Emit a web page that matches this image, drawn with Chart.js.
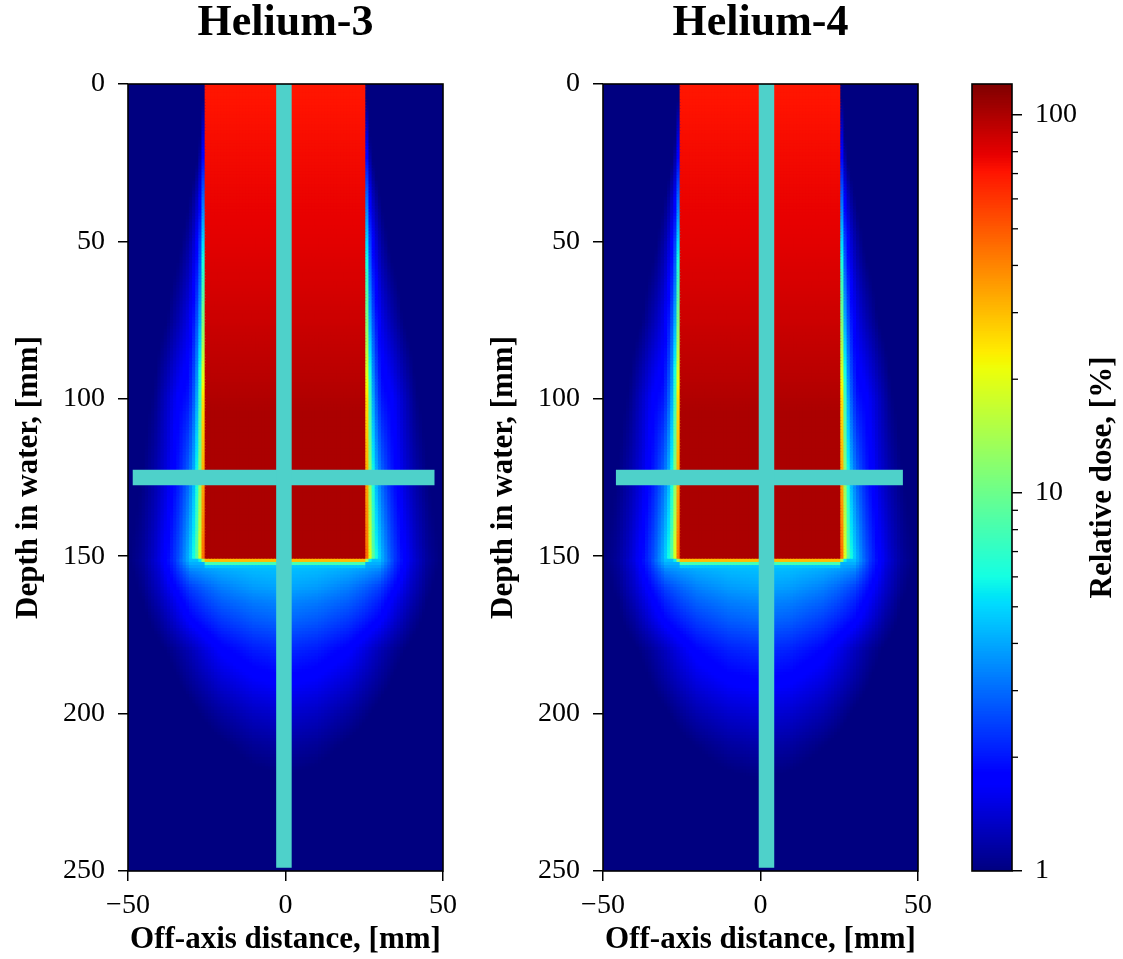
<!DOCTYPE html>
<html>
<head>
<meta charset="utf-8">
<script src="https://cdn.jsdelivr.net/npm/chart.js@4.4.1/dist/chart.umd.min.js"></script>
<style>
  html, body { margin: 0; padding: 0; background: #fff; }
  #wrap { position: relative; width: 1123px; height: 959px; }
  #wrap canvas { position: absolute; left: 0; top: 0; }
</style>
</head>
<body>
<div id="wrap">
  <canvas id="he3" width="1123" height="959"></canvas>
  <canvas id="he4" width="1123" height="959"></canvas>
  <canvas id="cbar" width="1123" height="959"></canvas>
</div>
<script>
// ---- labels and ticks ----
const panelTitles = ['Helium-3', 'Helium-4'];
const xTitle = 'Off-axis distance, [mm]';
const yTitle = 'Depth in water, [mm]';
const cbarTitle = 'Relative dose, [%]';
const xTickValues = [-50, 0, 50];
const depthTickValues = [0, 50, 100, 150, 200, 250];
const cbarTickValues = [1, 10, 100];
const cbarMinorValues = [2, 3, 4, 5, 6, 7, 8, 9, 20, 30, 40, 50, 60, 70, 80, 90];
const doseMin = 1;
const doseMax = 120.8;

// ---- dose (relative dose, %) ----
const fieldHalfWidth = 25.5;                       // mm, lateral edge of the field
const fieldDepths = [0, 10, 25, 50, 75, 95, 105, 150.5];
const he3FieldDose = [70, 72, 75, 80, 88, 96, 101, 101];
const he4FieldDose = [70, 72, 75, 80, 88, 96, 101, 101];

const edgeDepths = [150.5, 151.5, 152.5, 153.5, 154.5];   // distal fall-off
const he3EdgeDose = [101, 30, 8, 4.6, 0.5];
const he4EdgeDose = [101, 30, 8, 4.6, 0.5];

// lateral halo outside the field: rows = depth, cols = distance from field edge
const haloDepths = [0, 20, 50, 75, 100, 125, 150];
const haloOffsets = [0.5, 1.5, 2.5, 3.5, 5, 8, 12, 16, 20, 25, 30];
const he3Halo = [
  [0.85, 0.8, 0.8, 0.8, 0.8, 0.8, 0.8, 0.8, 0.8, 0.8, 0.8],
  [1.6, 1.05, 0.9, 0.85, 0.8, 0.8, 0.8, 0.8, 0.8, 0.8, 0.8],
  [5, 2.4, 1.7, 1.4, 1.15, 0.95, 0.85, 0.8, 0.8, 0.8, 0.8],
  [11, 4, 2.6, 2.0, 1.55, 1.25, 1.0, 0.88, 0.82, 0.8, 0.8],
  [25, 7.5, 4, 2.8, 2.0, 1.78, 1.35, 1.03, 0.92, 0.85, 0.8],
  [33, 12, 6, 4.2, 3.0, 2.1, 1.5, 1.18, 1.0, 0.9, 0.82],
  [45, 19, 9, 6, 4.3, 2.7, 1.8, 1.35, 1.1, 0.97, 0.88]
];
const he4Halo = [
  [0.85, 0.8, 0.8, 0.8, 0.8, 0.8, 0.8, 0.8, 0.8, 0.8, 0.8],
  [1.6, 1.05, 0.9, 0.85, 0.8, 0.8, 0.8, 0.8, 0.8, 0.8, 0.8],
  [5, 2.4, 1.7, 1.4, 1.15, 0.95, 0.85, 0.8, 0.8, 0.8, 0.8],
  [11, 4, 2.6, 2.0, 1.55, 1.25, 1.0, 0.88, 0.82, 0.8, 0.8],
  [25, 7.5, 4, 2.8, 2.0, 1.78, 1.35, 1.03, 0.92, 0.85, 0.8],
  [33, 12, 6, 4.2, 3.0, 2.1, 1.5, 1.18, 1.0, 0.9, 0.82],
  [45, 19, 9, 6, 4.3, 2.7, 1.8, 1.35, 1.1, 0.97, 0.88]
];

// distal tail beyond the field: rows = depth, cols = off-axis distance
const tailDepths = [151.5, 155, 160, 165, 170, 180, 190, 200, 210, 220, 235];
const tailOffAxis = [0, 10, 20, 25, 30, 35, 40, 45, 50];
const he3Tail = [
  [4.6, 4.6, 4.5, 4.5, 4.5, 2.3, 1.5, 1.13, 0.98],
  [4.4, 4.3, 4.0, 3.7, 3.3, 2.1, 1.42, 1.1, 0.95],
  [4.0, 3.8, 3.3, 2.9, 2.45, 1.8, 1.33, 1.06, 0.92],
  [3.4, 3.2, 2.8, 2.45, 2.05, 1.55, 1.22, 1.0, 0.9],
  [3.0, 2.8, 2.4, 2.1, 1.8, 1.4, 1.12, 0.96, 0.88],
  [2.2, 2.05, 1.75, 1.5, 1.25, 1.08, 0.96, 0.88, 0.85],
  [1.75, 1.65, 1.42, 1.25, 1.1, 0.97, 0.88, 0.84, 0.82],
  [1.4, 1.32, 1.15, 1.05, 0.95, 0.87, 0.82, 0.8, 0.8],
  [1.16, 1.1, 0.98, 0.92, 0.86, 0.82, 0.8, 0.8, 0.8],
  [1.0, 0.96, 0.88, 0.84, 0.8, 0.8, 0.8, 0.8, 0.8],
  [0.85, 0.83, 0.8, 0.8, 0.8, 0.8, 0.8, 0.8, 0.8]
];
const he4Tail = [
  [4.6, 4.6, 4.5, 4.5, 4.5, 2.3, 1.5, 1.13, 0.98],
  [4.4, 4.3, 4.0, 3.7, 3.3, 2.1, 1.42, 1.1, 0.95],
  [4.0, 3.8, 3.35, 2.95, 2.5, 1.82, 1.35, 1.06, 0.92],
  [3.45, 3.25, 2.85, 2.5, 2.1, 1.6, 1.24, 1.0, 0.9],
  [3.05, 2.85, 2.45, 2.15, 1.85, 1.45, 1.14, 0.97, 0.88],
  [2.25, 2.1, 1.82, 1.56, 1.3, 1.1, 0.97, 0.88, 0.85],
  [1.8, 1.72, 1.5, 1.32, 1.15, 1.0, 0.9, 0.85, 0.82],
  [1.45, 1.38, 1.22, 1.1, 0.98, 0.9, 0.84, 0.8, 0.8],
  [1.2, 1.14, 1.02, 0.95, 0.88, 0.83, 0.8, 0.8, 0.8],
  [1.02, 0.98, 0.9, 0.85, 0.8, 0.8, 0.8, 0.8, 0.8],
  [0.85, 0.83, 0.8, 0.8, 0.8, 0.8, 0.8, 0.8, 0.8]
];

// overlay profile lines (mm)
const he3AxisLine = [{x: -0.5, y: 0}, {x: -0.5, y: 249}];
const he3DepthLine = [{x: -48.5, y: 125}, {x: 47.3, y: 125}];
const he4AxisLine = [{x: 1.9, y: 0}, {x: 1.9, y: 249}];
const he4DepthLine = [{x: -45.9, y: 125}, {x: 45.2, y: 125}];

// ---- helpers ----
const FONT = 'Liberation Serif';
const lineColor = '#4ed1ca';
const CLIP = {left: 0, top: 0, right: 0, bottom: 0};
Chart.defaults.color = '#000';
Chart.defaults.font.family = FONT;

// matplotlib "jet"
const jetRed = [[0, 0], [0.35, 0], [0.66, 1], [0.89, 1], [1, 0.5]];
const jetGreen = [[0, 0], [0.125, 0], [0.375, 1], [0.64, 1], [0.91, 0], [1, 0]];
const jetBlue = [[0, 0.5], [0.11, 1], [0.34, 1], [0.65, 0], [1, 0]];
function seg(s, t) {
  for (let i = 1; i < s.length; i++) {
    if (t <= s[i][0]) {
      const f = (t - s[i - 1][0]) / (s[i][0] - s[i - 1][0]);
      return s[i - 1][1] + (s[i][1] - s[i - 1][1]) * f;
    }
  }
  return s[s.length - 1][1];
}
function jet(v) {
  let t = Math.log10(Math.max(v, doseMin)) / Math.log10(doseMax);
  t = Math.min(1, Math.max(0, t));
  const c = [jetRed, jetGreen, jetBlue].map(s => Math.round(255 * seg(s, t)));
  return 'rgb(' + c.join(',') + ')';
}

// log-scale lookup between read values
function lookup(xs, ys, v) {
  if (v <= xs[0]) return ys[0];
  for (let i = 1; i < xs.length; i++) {
    if (v <= xs[i]) {
      const f = (v - xs[i - 1]) / (xs[i] - xs[i - 1]);
      return Math.pow(10, Math.log10(ys[i - 1]) * (1 - f) + Math.log10(ys[i]) * f);
    }
  }
  return ys[ys.length - 1];
}
function lookup2(rows, cols, table, r, c) {
  return lookup(rows, table.map(row => lookup(cols, row, c)), r);
}
function dose(p, x, z) {
  const ax = Math.abs(x), d = ax - fieldHalfWidth;
  if (z < 151) {
    return d < 0 ? lookup(fieldDepths, p.field, z) : lookup2(haloDepths, haloOffsets, p.halo, z, d);
  }
  const edge = lookup(edgeDepths, p.edge, z);
  const tail = lookup2(tailDepths, tailOffAxis, p.tail, z, ax);
  if (d < 0) return Math.max(tail, edge);
  return Math.max(tail, lookup2(haloDepths, haloOffsets, p.halo, 150, d) * edge / 101);
}

// 1 mm cells
const cellOffsets = [];
for (let x = -50; x <= 50; x++) cellOffsets.push(x);
const cellDepths = [];
for (let z = 0.5; z < 250; z += 1) cellDepths.push(z);

const framePlugin = {
  id: 'frame',
  afterDatasetsDraw(chart) {
    const {ctx, chartArea: a} = chart;
    ctx.save();
    ctx.strokeStyle = '#000';
    ctx.lineWidth = 1.6;
    ctx.strokeRect(a.left, a.top, a.right - a.left, a.bottom - a.top);
    ctx.restore();
  }
};

function tickSetter(values) {
  return scale => { scale.ticks = values.map(v => ({value: v})); };
}

function panelChart(id, title, p, axisLine, depthLine, padLeft, padRight) {
  const cells = [], colors = [];
  cellDepths.forEach(z => cellOffsets.forEach(x => {
    cells.push({x: x, y: z});
    colors.push(jet(dose(p, x, z)));
  }));
  const lineSet = data => ({
    type: 'line', data: data, borderColor: lineColor, borderWidth: 15.5,
    borderCapStyle: 'butt', pointRadius: 0, order: 0, clip: CLIP
  });
  return new Chart(document.getElementById(id), {
    type: 'scatter',
    data: {
      datasets: [
        lineSet(axisLine),
        lineSet(depthLine),
        // rect points slightly larger than a cell so neighbours overlap without seams
        {data: cells, backgroundColor: colors, pointStyle: 'rect', pointRadius: 3.0,
         borderWidth: 0, order: 1, clip: CLIP}
      ]
    },
    options: {
      responsive: false,
      animation: false,
      events: [],
      layout: {padding: {left: padLeft, right: padRight, top: 0, bottom: 0}},
      plugins: {
        legend: {display: false},
        tooltip: {enabled: false},
        title: {
          display: true, text: title, fullSize: false, color: '#000',
          font: {family: FONT, size: 44, weight: 'bold', lineHeight: 1},
          padding: {top: 2, bottom: 38}
        }
      },
      scales: {
        x: {
          type: 'linear', min: -50, max: 50,
          afterBuildTicks: tickSetter(xTickValues),
          afterFit: s => { s.height = 88; },
          grid: {drawOnChartArea: false, tickLength: 10, color: '#000', lineWidth: 1.5},
          border: {display: false},
          ticks: {font: {size: 28}, padding: 8, maxRotation: 0, autoSkip: false,
                  callback: v => String(v).replace('-', '\u2212')},
          title: {display: true, text: xTitle, font: {size: 31, weight: 'bold'}, padding: {top: 0, bottom: 0}}
        },
        y: {
          type: 'linear', min: 0, max: 250, reverse: true,
          afterBuildTicks: tickSetter(depthTickValues),
          afterFit: s => { s.width = 128; },
          grid: {drawOnChartArea: false, tickLength: 10, color: '#000', lineWidth: 1.5},
          border: {display: false},
          ticks: {font: {size: 28}, padding: 13, autoSkip: false},
          title: {display: true, text: yTitle, font: {size: 31, weight: 'bold'}, padding: {top: 10, bottom: 0}}
        }
      }
    },
    plugins: [framePlugin]
  });
}

panelChart('he3', panelTitles[0],
  {field: he3FieldDose, edge: he3EdgeDose, halo: he3Halo, tail: he3Tail},
  he3AxisLine, he3DepthLine, 0, 680);
panelChart('he4', panelTitles[1],
  {field: he4FieldDose, edge: he4EdgeDose, halo: he4Halo, tail: he4Tail},
  he4AxisLine, he4DepthLine, 475, 205);

// ---- colour bar ----
const cbarSteps = 300;
const cbarBars = [], cbarColors = [];
const logMax = Math.log10(doseMax);
for (let i = 0; i < cbarSteps; i++) {
  const lo = Math.pow(10, logMax * i / cbarSteps);
  const hi = Math.pow(10, logMax * (i + 1) / cbarSteps);
  cbarBars.push({x: 0.5, y: [lo, Math.min(doseMax, hi * 1.004)]});
  cbarColors.push(jet(Math.sqrt(lo * hi)));
}

const cbarPlugin = {
  id: 'cbarExtras',
  afterDraw(chart) {
    const {ctx, chartArea: a} = chart;
    const ys = chart.scales.y;
    ctx.save();
    ctx.strokeStyle = '#000';
    ctx.lineWidth = 1.3;
    cbarMinorValues.forEach(v => {
      const py = ys.getPixelForValue(v);
      ctx.beginPath();
      ctx.moveTo(a.right, py);
      ctx.lineTo(a.right + 6, py);
      ctx.stroke();
    });
    ctx.translate(1103, (a.top + a.bottom) / 2);
    ctx.rotate(-Math.PI / 2);
    ctx.font = 'bold 31px "' + FONT + '"';
    ctx.textAlign = 'center';
    ctx.textBaseline = 'middle';
    ctx.fillStyle = '#000';
    ctx.fillText(cbarTitle, 0, 0);
    ctx.restore();
  }
};

new Chart(document.getElementById('cbar'), {
  type: 'bar',
  data: {
    datasets: [{data: cbarBars, backgroundColor: cbarColors, barThickness: 41, borderWidth: 0, clip: CLIP}]
  },
  options: {
    responsive: false,
    animation: false,
    events: [],
    layout: {padding: {left: 972, right: 0, top: 84, bottom: 88}},
    plugins: {legend: {display: false}, tooltip: {enabled: false}},
    scales: {
      x: {type: 'linear', min: 0, max: 1, offset: false, display: false},
      y: {
        type: 'logarithmic', position: 'right', min: doseMin, max: doseMax,
        afterBuildTicks: tickSetter(cbarTickValues),
        afterFit: s => { s.width = 111; },
        grid: {drawOnChartArea: false, tickLength: 10, color: '#000', lineWidth: 1.5},
        border: {display: false},
        ticks: {font: {size: 28}, padding: 13, autoSkip: false, callback: v => String(v)}
      }
    }
  },
  plugins: [framePlugin, cbarPlugin]
});
</script>
</body>
</html>
